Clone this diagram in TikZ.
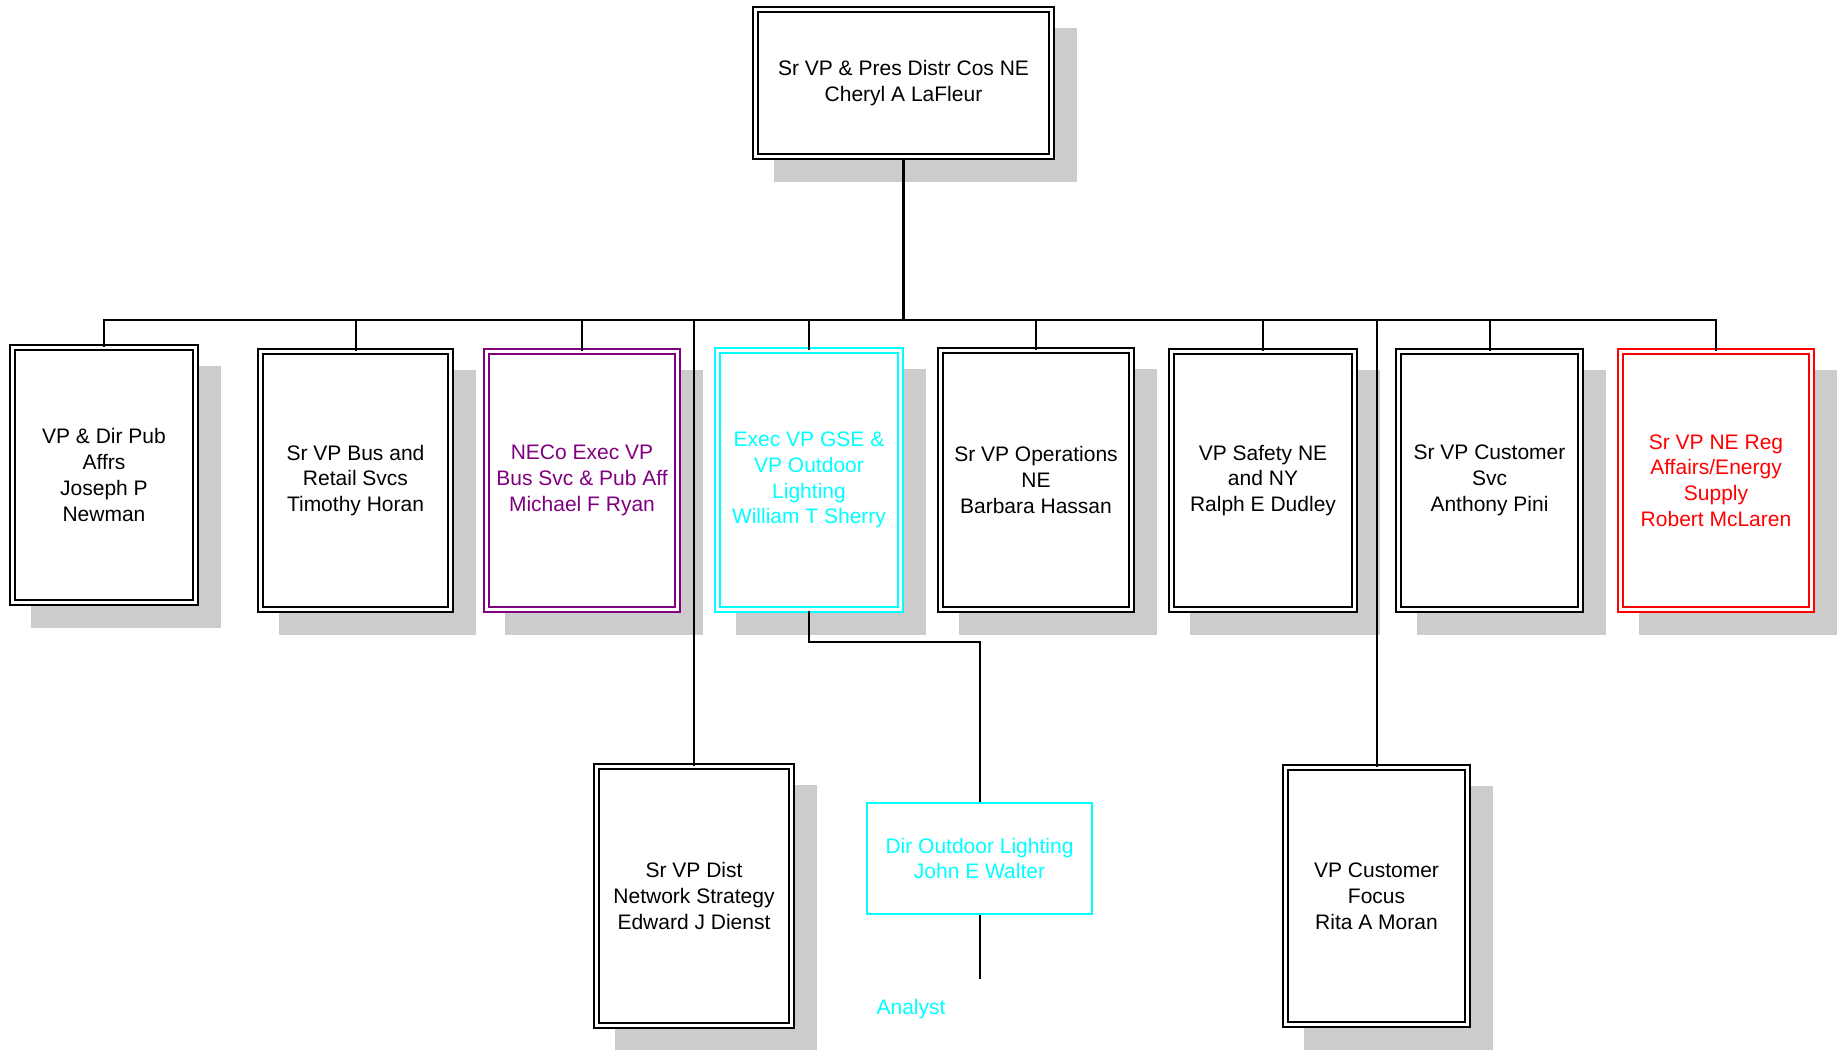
\documentclass[tikz,border=0pt]{standalone}
\usepackage{fontspec}
\setmainfont{Liberation Sans}
\usetikzlibrary{shadows}
\definecolor{necopurple}{RGB}{128,0,128}
\definecolor{gsecyan}{RGB}{0,255,255}
\definecolor{regred}{RGB}{255,0,0}
\definecolor{shadowgray}{RGB}{204,204,204}

\begin{document}
\begin{tikzpicture}[x=0.4pt,y=-0.4pt,
                every node/.style={font=\fontsize{8.4}{10.3}\selectfont,align=center,inner sep=0pt},
                post/.style 2 args={draw=black,double=white,line width=0.8pt,double distance=1.2pt,fill=white,
                    minimum width=#1*0.4pt-2.8pt,minimum height=#2*0.4pt-2.8pt,
                    drop shadow={shadow xshift=8.8pt,shadow yshift=-8.8pt,opacity=1,fill=shadowgray,draw=shadowgray,line width=2.8pt}},
                link/.style={line width=0.8pt},
                trunk/.style={line width=1.2pt}]
                \useasboundingbox (0,0) rectangle (1845,1049);
                % top of the chart
                \node[post={303}{154}] (top) at (903.5,83) {Sr VP \& Pres Distr Cos NE\\Cheryl A LaFleur};
                % direct reports
                \node[post={190}{262}] (pub) at (104,475) {VP \& Dir Pub\\Affrs\\Joseph P\\Newman};
                \node[post={197}{265}] (retail) at (355.5,480.5) {Sr VP Bus and\\Retail Svcs\\Timothy Horan};
                \node[post={198}{265},draw=necopurple,text=necopurple] (neco) at (582,480.5) {NECo Exec VP\\Bus Svc \& Pub Aff\\Michael F Ryan};
                \node[post={190}{266},draw=gsecyan,text=gsecyan] (gse) at (809,480) {Exec VP GSE \&\\VP Outdoor\\Lighting\\William T Sherry};
                \node[post={198}{266}] (ops) at (1036,480) {Sr VP Operations\\NE\\Barbara Hassan};
                \node[post={190}{265}] (safety) at (1263,480.5) {VP Safety NE\\and NY\\Ralph E Dudley};
                \node[post={189}{265}] (custsvc) at (1489.5,480.5) {Sr VP Customer\\Svc\\Anthony Pini};
                \node[post={198}{265},draw=regred,text=regred] (reg) at (1716,480.5) {Sr VP NE Reg\\Affairs/Energy\\Supply\\Robert McLaren};
                \node[post={202}{266}] (dist) at (694,896) {Sr VP Dist\\Network Strategy\\Edward J Dienst};
                \node[post={189}{264}] (focus) at (1376.5,896) {VP Customer\\Focus\\Rita A Moran};
                % under GSE
                \node[draw=gsecyan,line width=0.8pt,text=gsecyan,fill=white,
                    minimum width=227*0.4pt-0.8pt,minimum height=113*0.4pt-0.8pt] (outdoor) at (979.5,858.5) {Dir Outdoor Lighting\\John E Walter};
                \node[text=gsecyan] (analyst) at (911,1009) {Analyst};
                % connectors
                \coordinate (bus) at (903.5,320);
                \draw[trunk] (top.south) -- (bus);
                \foreach \n in {pub,retail,neco,gse,ops,safety,custsvc,reg,dist,focus}
                    \draw[link] (bus) -| (\n.north);
                \draw[link] (gse.south) -- ++(0,31) -| (outdoor.north);
                \coordinate (analyst end) at (979.5,979);
                \draw[link] (outdoor.south) -- (analyst end);
            \end{tikzpicture}
\end{document}
